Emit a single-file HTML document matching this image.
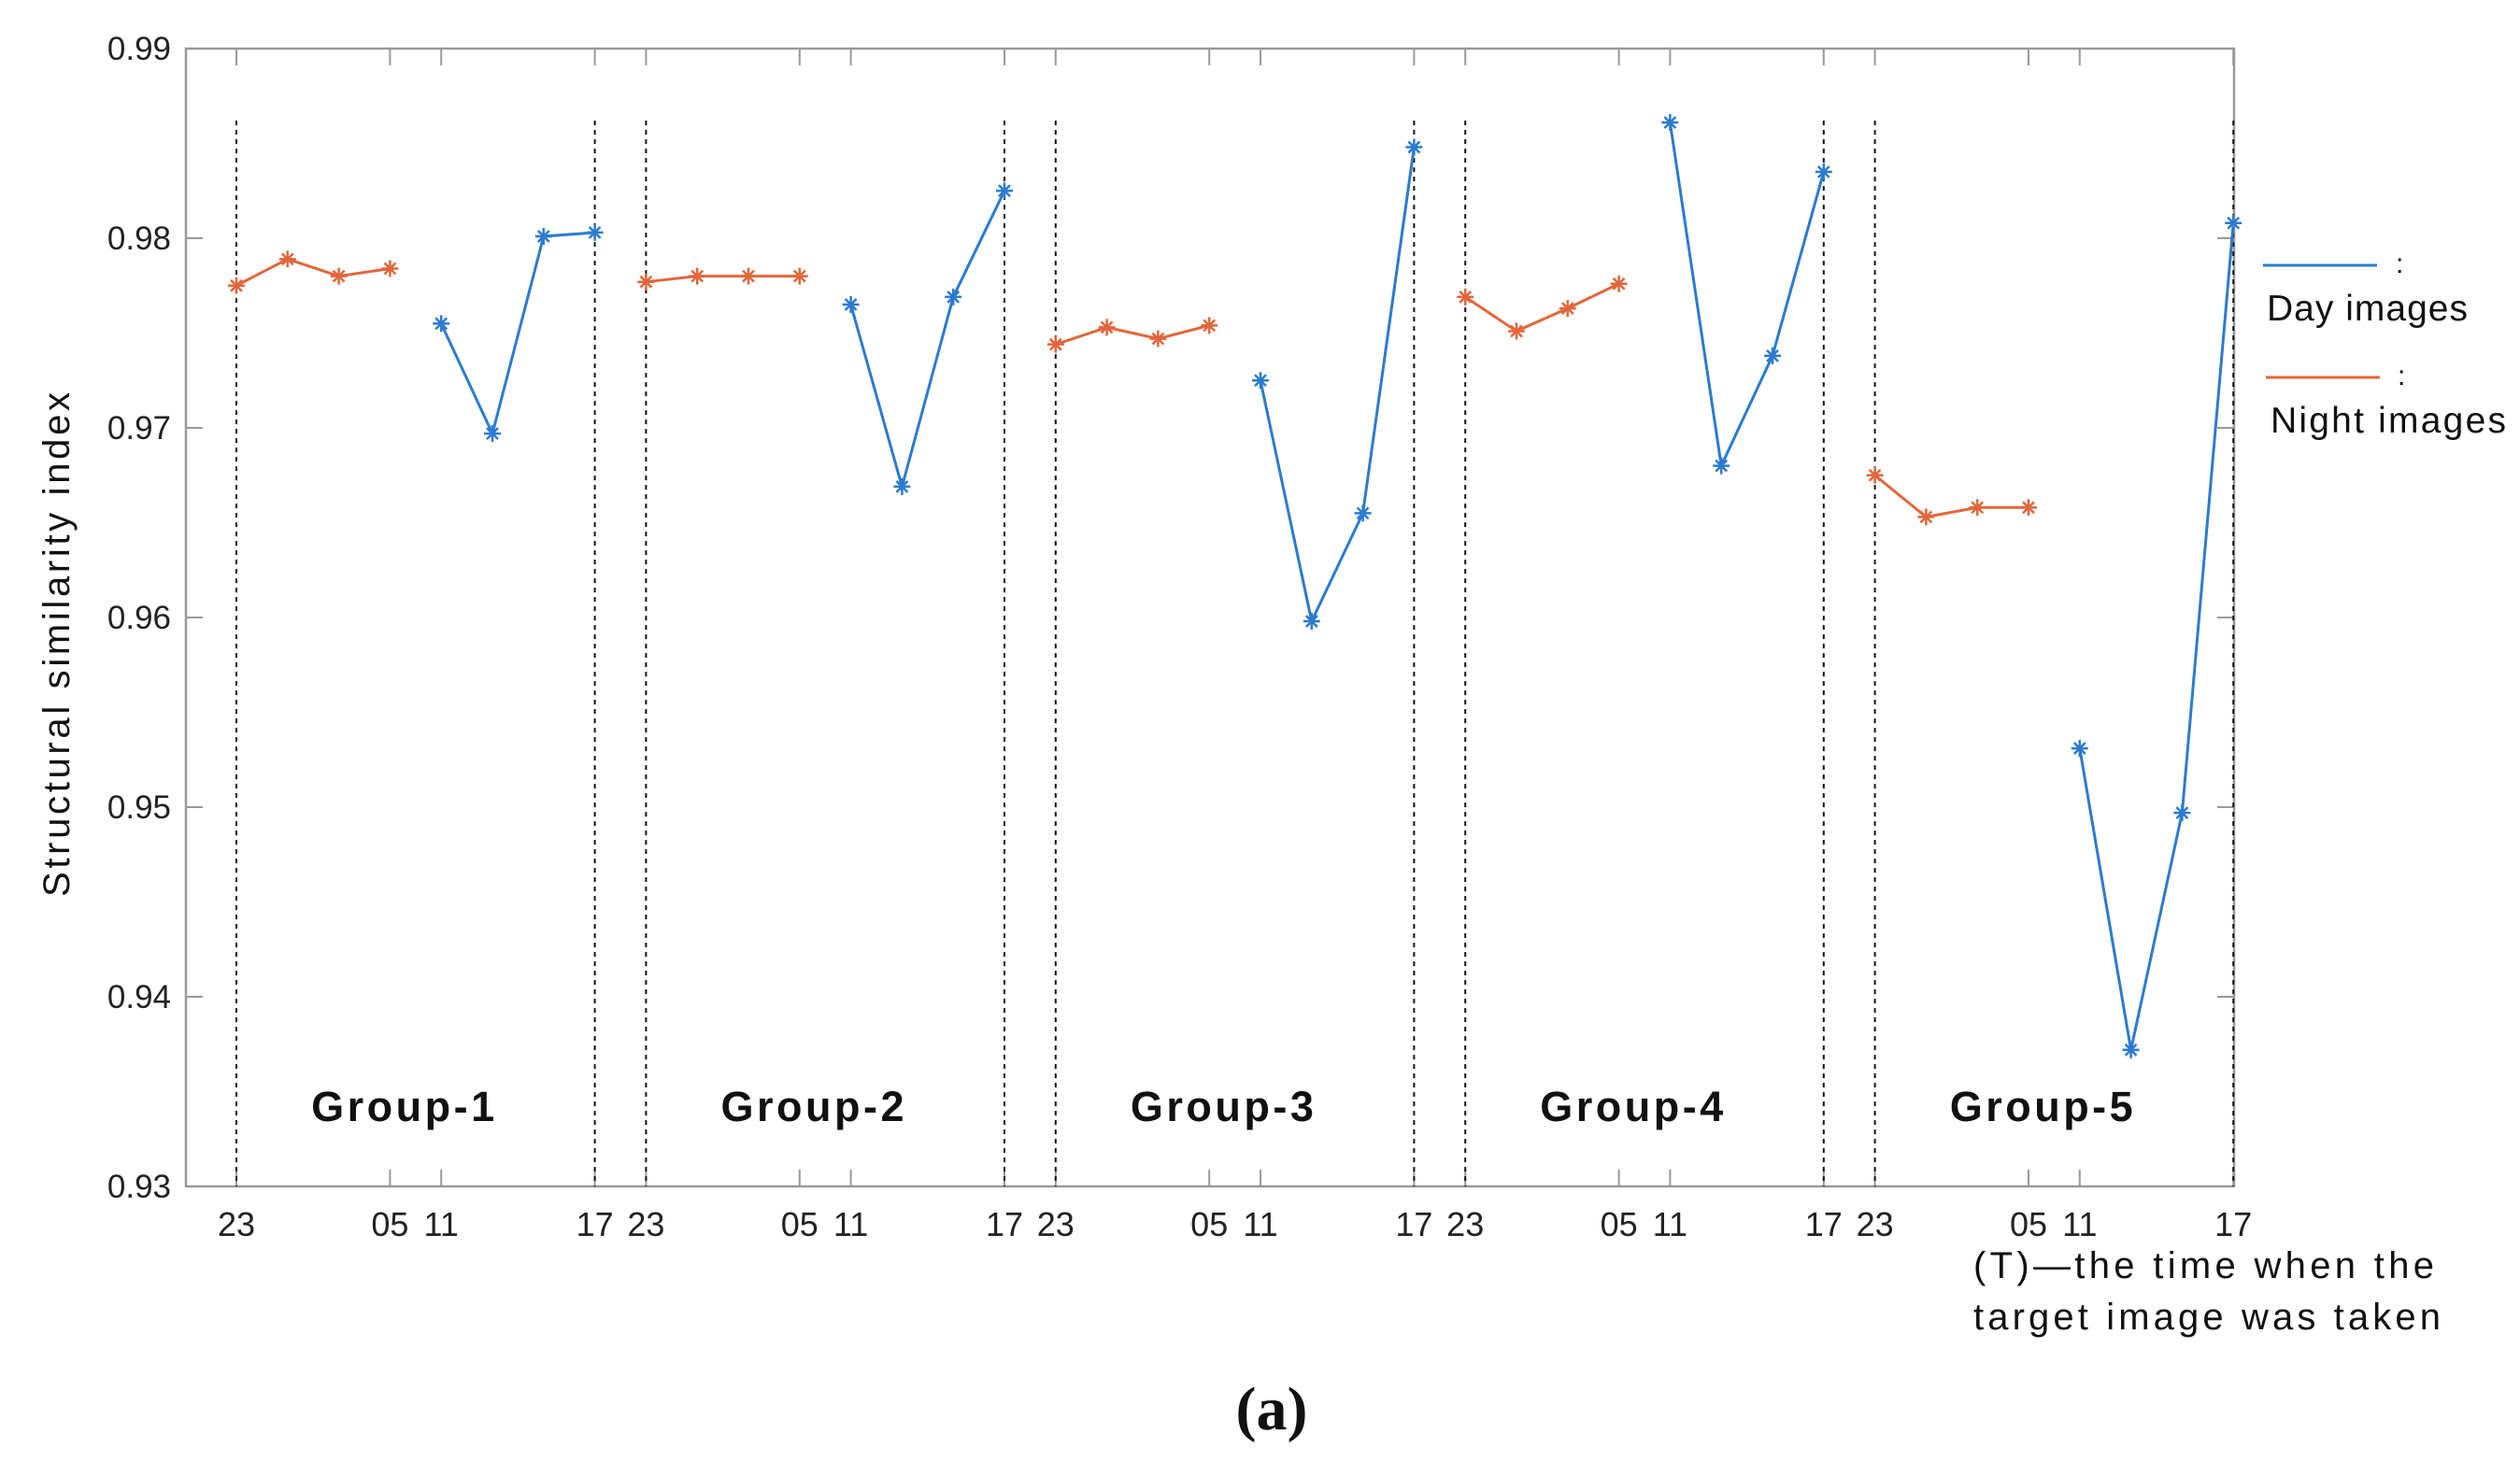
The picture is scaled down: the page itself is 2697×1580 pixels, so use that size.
<!DOCTYPE html>
<html><head><meta charset="utf-8"><style>
html,body{margin:0;padding:0;background:#fff;}
svg{display:block;font-family:"Liberation Sans",sans-serif;}
</style></head><body>
<svg id="chart" width="2697" height="1580" viewBox="0 0 2697 1580">
<g id="axes"></g>
<g id="marks"></g>
<text x="74" y="690" transform="rotate(-90 74 690)" text-anchor="middle" font-size="40" fill="#111" textLength="540">Structural similarity index</text>
<g>
<line x1="2422" y1="284" x2="2544" y2="284" stroke="#2b7bd0" stroke-width="3"/>
<text x="2564" y="292" font-size="30">:</text>
<text x="2426" y="343" font-size="39" fill="#111" textLength="215">Day images</text>
<line x1="2425" y1="404" x2="2547" y2="404" stroke="#e2663a" stroke-width="3"/>
<text x="2566" y="412" font-size="30">:</text>
<text x="2430" y="463" font-size="39" fill="#111" textLength="252">Night images</text>
</g>
<text x="2112" y="1368" font-size="40" fill="#111" textLength="493">(T)—the time when the</text>
<text x="2112" y="1423" font-size="40" fill="#111" textLength="500">target image was taken</text>
<text x="1361" y="1530" text-anchor="middle" font-size="66" font-family="Liberation Serif,serif" font-weight="bold" fill="#111">(a)</text>
</svg>
<script>
const groups = ["Group-1","Group-2","Group-3","Group-4","Group-5"];
const nightValues = [
 [0.9775,0.9789,0.9780,0.9784],
 [0.9777,0.9780,0.9780,0.9780],
 [0.9744,0.9753,0.9747,0.9754],
 [0.9769,0.9751,0.9763,0.9776],
 [0.9675,0.9653,0.9658,0.9658]];
const dayValues = [
 [0.9755,0.9697,0.9801,0.9803],
 [0.9765,0.9669,0.9769,0.9825],
 [0.9725,0.9598,0.9655,0.9848],
 [0.9861,0.9680,0.9738,0.9835],
 [0.9531,0.9372,0.9497,0.9808]];
const yTicks = [0.93,0.94,0.95,0.96,0.97,0.98,0.99];
const yTickLabels = ["0.93","0.94","0.95","0.96","0.97","0.98","0.99"];
const xTickIdx = [0,3,4,7];
const xTickLabels = ["23","05","11","17"];

const L=199,R=2391,T=52,B=1270,X0=253,STEP=54.8,YMIN=0.93,YMAX=0.99;
const sx=i=>X0+i*STEP;
const sy=v=>B-(v-YMIN)/(YMAX-YMIN)*(B-T);
const NS="http://www.w3.org/2000/svg";
const axes=document.getElementById('axes'), marks=document.getElementById('marks');
function mk(tag,attrs,parent){const e=document.createElementNS(NS,tag);for(const k in attrs)e.setAttribute(k,attrs[k]);parent.appendChild(e);return e;}

let box=mk('rect',{x:L,y:T,width:R-L,height:B-T,fill:'none',stroke:'#999','stroke-width':2.5},axes);


yTicks.forEach((v,i)=>{
  let t=mk('line',{x1:L,x2:L+18,y1:sy(v),y2:sy(v),stroke:'#999','stroke-width':2},axes);
  
  
  let t2=mk('line',{x1:R-18,x2:R,y1:sy(v),y2:sy(v),stroke:'#999','stroke-width':2},axes);
  
  
  let lb=mk('text',{x:183,y:sy(v)+12,'text-anchor':'end','font-size':35,fill:'#222'},axes);
  lb.textContent=yTickLabels[i];
  
  
});
groups.forEach((g,gi)=>{
  const base=gi*8;
  xTickIdx.forEach((k,j)=>{
    const x=sx(base+k);
    let a=mk('line',{x1:x,x2:x,y1:T,y2:T+18,stroke:'#999','stroke-width':2},axes);
    
    
    let b=mk('line',{x1:x,x2:x,y1:B-18,y2:B,stroke:'#999','stroke-width':2},axes);
    
    
    let lb=mk('text',{x:x,y:1323,'text-anchor':'middle','font-size':36,fill:'#222'},axes);
    lb.textContent=xTickLabels[j];
    
    
  });
  [0,7].forEach(k=>{
    let d=mk('line',{x1:sx(base+k),x2:sx(base+k),y1:sy(0.9862),y2:B,stroke:'#111','stroke-width':2,'stroke-dasharray':'5,5'},axes);
    
    
  });
  let gl=mk('text',{x:sx(base+3.25),y:1200,'text-anchor':'middle','font-size':45,'font-weight':'bold',fill:'#111',textLength:196},axes);
  gl.textContent=g;
  
  
  const draw=(vals,off,color,name)=>{
    const pts=vals.map((v,i)=>[sx(base+off+i),sy(v)]);
    let pl=mk('polyline',{points:pts.map(p=>p.join(',')).join(' '),fill:'none',stroke:color,'stroke-width':3},marks);
    
    
    pts.forEach(p=>{
      let m=mk('path',{d:`M${p[0]-9},${p[1]}h18M${p[0]},${p[1]-9}v18M${p[0]-6},${p[1]-6}l12,12M${p[0]-6},${p[1]+6}l12,-12`,stroke:color,'stroke-width':2.5},marks);
      
      
    });
  };
  draw(nightValues[gi],0,'#e2663a','night');
  draw(dayValues[gi],4,'#2b7bd0','day');
});
</script>
</body></html>
